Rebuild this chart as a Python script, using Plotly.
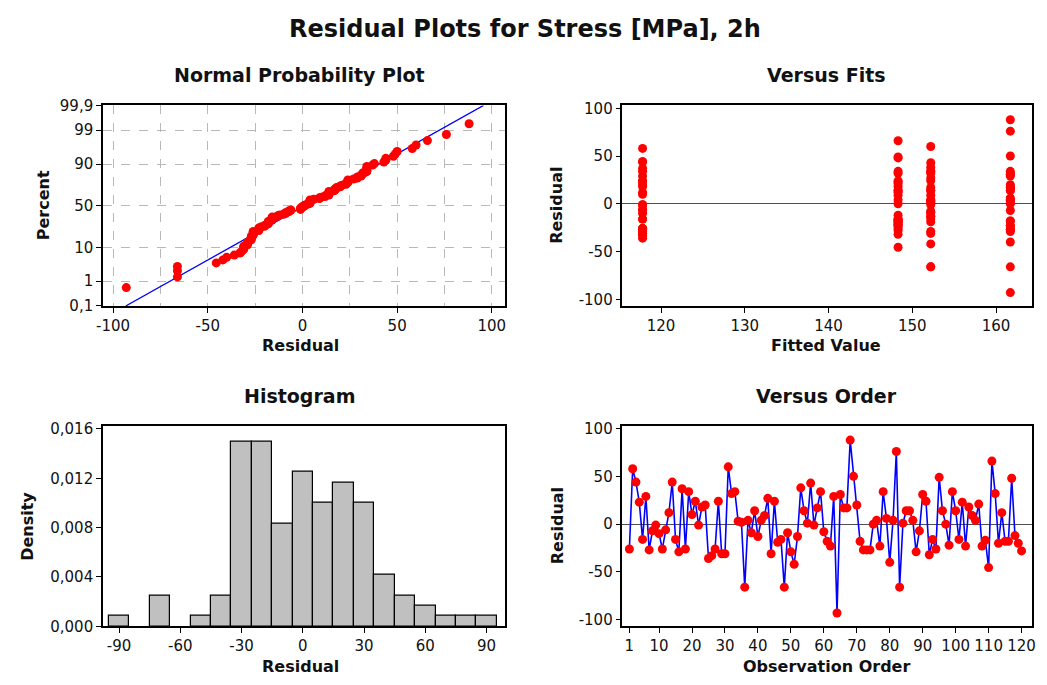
import plotly.graph_objects as go
from statistics import NormalDist, mean, stdev

# Residuals in observation order (Stress [MPa], 2h model)
residuals = [
    -26, 58, 44, 23, -16, 29, -27, -7, -1, -10,
    -26, -6, 12, 44, -16, -29, 37, -26, 34, 10,
    24, -1, 18, 20, -36, -33, -26, 24, -31, -31,
    60, 32, 34, 3, 2, -66, 4, -9, 14, -13,
    4, 9, 27, -31, 24, -19, -16, -66, -9, -29,
    -42, -13, 38, 14, 1, 43, -1, 17, 34, -8,
    -18, -23, 29, -93, 31, 17, 17, 88, 50, 20,
    -18, -27, -27, -27, 0, 4, -23, 34, 6, -40,
    4, 76, -66, 1, 14, 14, 4, -29, -7, 31,
    24, -32, -16, -26, 49, 14, 0, -22, 34, 14,
    -16, 23, -23, 18, 9, 4, 21, -23, -17, -45.5,
    66, 32, -20, 12, -18, -18, 48, -12, -20, -28,
]

# Fitted value for each block of consecutive observations
fit_levels = [117.8, 152.2, 161.7, 148.3]
obs_per_level = 30

# Axis tick values and labels
prob_pct = [0.1, 1, 10, 50, 90, 99, 99.9]
prob_text = ["0,1", "1", "10", "50", "90", "99", "99,9"]
npp_x_ticks = [-100, -50, 0, 50, 100]
npp_x_minor = [-75, -25, 25, 75]
resid_ticks = [-100, -50, 0, 50, 100]
fit_ticks = [120, 130, 140, 150, 160]
hist_x_ticks = [-90, -60, -30, 0, 30, 60, 90]
hist_y_ticks = [0, 0.004, 0.008, 0.012, 0.016]
hist_y_text = ["0,000", "0,004", "0,008", "0,012", "0,016"]
order_ticks = [1, 10, 20, 30, 40, 50, 60, 70, 80, 90, 100, 110, 120]

W, H = 1047, 685
FONT = "DejaVu Sans"
RED = "#FF0000"
BLUE = "#0000FF"
MARKER_SIZE = 9

nd = NormalDist()
n = len(residuals)
order = list(range(1, n + 1))
fitted = [lvl for lvl in fit_levels for _ in range(obs_per_level)]

# Normal probability plot: median ranks on a normal-quantile scale
sorted_res = sorted(residuals)
z_pts = [nd.inv_cdf((i - 0.3) / (n + 0.4)) for i in range(1, n + 1)]
mu, sd = mean(residuals), stdev(residuals)
z_lo, z_hi = nd.inv_cdf(0.001), nd.inv_cdf(0.999)
line_z = [z_lo, z_hi]
line_x = [mu + sd * z for z in line_z]
prob_z = [nd.inv_cdf(p / 100) for p in prob_pct]


def hyphen(v):
    return str(v).replace("−", "-")


def fx(px):
    return px / W


def fy(py):
    return 1 - py / H


def base_axis(**kw):
    d = dict(
        showline=True, mirror=True, linecolor="black", linewidth=1.5,
        ticks="outside", ticklen=5, tickwidth=1.2, tickcolor="black",
        tickfont=dict(family=FONT, size=15, color="#111111"),
        showgrid=False, zeroline=False, tickmode="array",
    )
    d.update(kw)
    return d


fig = go.Figure()

# Panel 1: normal probability plot
fig.add_trace(go.Scatter(
    x=line_x, y=line_z, mode="lines", line=dict(color=BLUE, width=1.3),
    xaxis="x", yaxis="y", hoverinfo="skip"))
fig.add_trace(go.Scatter(
    x=sorted_res, y=z_pts, mode="markers",
    marker=dict(color=RED, size=MARKER_SIZE, line=dict(width=0)),
    xaxis="x", yaxis="y"))

# Panel 2: residuals versus fitted values
fig.add_trace(go.Scatter(
    x=fitted, y=residuals, mode="markers",
    marker=dict(color=RED, size=MARKER_SIZE, line=dict(width=0)),
    xaxis="x2", yaxis="y2"))

# Panel 3: histogram of residuals
fig.add_trace(go.Histogram(
    x=residuals, xbins=dict(start=-95, end=95, size=10),
    histnorm="probability density",
    marker=dict(color="#C0C0C0", line=dict(color="black", width=1.2)),
    xaxis="x3", yaxis="y3"))

# Panel 4: residuals versus observation order
fig.add_trace(go.Scatter(
    x=order, y=residuals, mode="lines+markers",
    line=dict(color=BLUE, width=1.6),
    marker=dict(color=RED, size=MARKER_SIZE, line=dict(width=0)),
    xaxis="x4", yaxis="y4"))

grid_kw = dict(showgrid=True, gridcolor="#B8B8B8", griddash="dash", gridwidth=1.2)

fig.update_layout(
    width=W, height=H,
    margin=dict(l=0, r=0, t=0, b=0),
    paper_bgcolor="white", plot_bgcolor="white",
    showlegend=False, bargap=0,
    separators=",.",
    xaxis=base_axis(
        domain=[fx(97), fx(503)], anchor="y", range=[-105.3, 106.8],
        tickvals=npp_x_ticks, ticktext=[hyphen(v) for v in npp_x_ticks],
        minor=dict(tickvals=npp_x_minor, ticks="", **grid_kw),
        **grid_kw),
    yaxis=base_axis(
        domain=[fy(305), fy(99)], anchor="x", range=[z_lo, z_hi],
        tickvals=prob_z, ticktext=prob_text, **grid_kw),
    xaxis2=base_axis(
        domain=[fx(622), fx(1036)], anchor="y2", range=[115.4, 164.3],
        tickvals=fit_ticks, ticktext=[str(v) for v in fit_ticks]),
    yaxis2=base_axis(
        domain=[fy(305), fy(99)], anchor="x2", range=[-107, 103],
        tickvals=resid_ticks, ticktext=[hyphen(v) for v in resid_ticks],
        zeroline=True, zerolinecolor="#505050", zerolinewidth=1.3),
    xaxis3=base_axis(
        domain=[fx(97), fx(503)], anchor="y3", range=[-97.9, 98.9],
        tickvals=hist_x_ticks, ticktext=[hyphen(v) for v in hist_x_ticks]),
    yaxis3=base_axis(
        domain=[fy(634), fy(428)], anchor="x3", range=[0, 0.01626],
        tickvals=hist_y_ticks, ticktext=hist_y_text),
    xaxis4=base_axis(
        domain=[fx(622), fx(1036)], anchor="y4", range=[-1.1, 123.2],
        tickvals=order_ticks, ticktext=[str(v) for v in order_ticks]),
    yaxis4=base_axis(
        domain=[fy(634), fy(428)], anchor="x4", range=[-107, 103],
        tickvals=resid_ticks, ticktext=[hyphen(v) for v in resid_ticks],
        zeroline=True, zerolinecolor="#505050", zerolinewidth=1.3),
)

# Titles and axis labels
def label(text, px, py, size, angle=0):
    fig.add_annotation(
        text=f"<b>{text}</b>", x=fx(px), y=fy(py), xref="paper", yref="paper",
        xanchor="center", yanchor="middle", showarrow=False, textangle=angle,
        font=dict(family=FONT, size=size, color="#111111"))


label("Residual Plots for Stress [MPa], 2h", 523, 21, 24)
label("Normal Probability Plot", 296, 68, 19)
label("Versus Fits", 828, 68, 19)
label("Histogram", 296, 397, 19)
label("Versus Order", 828, 397, 19)
label("Residual", 297, 346, 16)
label("Fitted Value", 828, 346, 16)
label("Residual", 297, 675, 16)
label("Observation Order", 828, 675, 16)
label("Percent", 37, 202, 16, -90)
label("Residual", 556, 202, 16, -90)
label("Density", 20, 531, 16, -90)
label("Residual", 556, 531, 16, -90)

fig.write_html("out.html")
